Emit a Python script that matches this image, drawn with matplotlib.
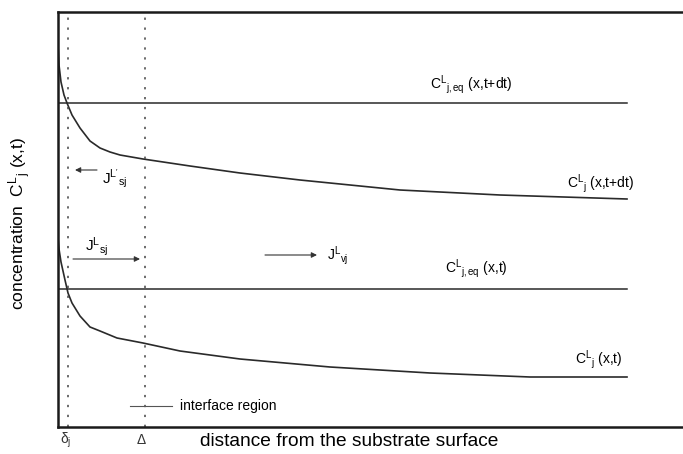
import matplotlib
matplotlib.use("Agg")
import matplotlib.pyplot as plt

plt.rcParams['font.family'] = ['Liberation Sans', 'DejaVu Sans']
plt.rcParams['mathtext.fontset'] = 'custom'
plt.rcParams['mathtext.rm'] = 'Liberation Sans'
plt.rcParams['mathtext.it'] = 'Liberation Sans'
plt.rcParams['mathtext.bf'] = 'Liberation Sans:bold'

# ---- data (schematic units: distance from substrate, concentration) ----
x_upper = [0, 1, 3, 6, 9, 14, 22, 32, 42, 52, 62, 85, 132, 182, 242, 342, 442, 569]
c_upper = [382, 362, 345, 332, 324, 312, 299, 286, 279, 275, 272, 268, 261, 254, 247, 237, 232, 228]

x_lower = [0, 1, 3, 7, 10, 14, 22, 32, 42, 59, 85, 122, 182, 272, 372, 472, 569]
c_lower = [189, 178, 165, 147, 134, 124, 111, 100, 96, 89, 84, 76, 68, 60, 54, 50, 50]

ceq_upper = 324
ceq_lower = 138
x_eq_end = 569

delta_j = 10
Delta = 87

W = 683
H = 454
fig = plt.figure(figsize=(W / 100, H / 100), dpi=100)
ax = fig.add_axes([58 / W, (H - 427) / H, (W - 58) / W, (427 - 12) / H])
ax.set_xlim(0, W - 58)
ax.set_ylim(0, 427 - 12)

for s in ['left', 'top', 'bottom']:
    ax.spines[s].set_linewidth(1.8)
    ax.spines[s].set_color('#1a1a1a')
ax.spines['right'].set_visible(False)
ax.set_xticks([])
ax.set_yticks([])

lc = '#2a2a2a'
ax.plot(x_upper, c_upper, color=lc, lw=1.2)
ax.plot(x_lower, c_lower, color=lc, lw=1.2)
ax.plot([0, x_eq_end], [ceq_upper, ceq_upper], color=lc, lw=1.1)
ax.plot([0, x_eq_end], [ceq_lower, ceq_lower], color=lc, lw=1.1)

for xv in (delta_j, Delta):
    ax.axvline(xv, color='#444444', lw=1.1, ls=(0, (1.5, 5)))

# arrows
def arrow(x0, y0, x1, y1):
    ax.annotate('', xy=(x1, y1), xytext=(x0, y0),
                arrowprops=dict(arrowstyle='-|>', color='#333333', lw=0.8,
                                mutation_scale=8, shrinkA=0, shrinkB=0))

arrow(39, 257, 17, 257)     # J^L'_sj (towards substrate)
arrow(15, 168, 82, 168)     # J^L_sj
arrow(207, 172, 259, 172)   # J^L_vj

fs = 10
ax.text(44, 248, r"$\mathregular{J^{L'}{}_{sj}}$", fontsize=11, ha='left', va='center')
ax.text(27, 180, r"$\mathregular{J^{L}{}_{sj}}$", fontsize=11, ha='left', va='center')
ax.text(269, 171, r"$\mathregular{J^{L}{}_{vj}}$", fontsize=fs, ha='left', va='center')

ax.text(372, 342, r"$\mathregular{C^{L}{}_{j,eq}}$ (x,t+dt)", fontsize=fs, ha='left', va='center')
ax.text(509, 243, r"$\mathregular{C^{L}{}_{j}}$ (x,t+dt)", fontsize=fs, ha='left', va='center')
ax.text(387, 158, r"$\mathregular{C^{L}{}_{j,eq}}$ (x,t)", fontsize=fs, ha='left', va='center')
ax.text(517, 67, r"$\mathregular{C^{L}{}_{j}}$ (x,t)", fontsize=fs, ha='left', va='center')

ax.plot([72, 114], [21, 21], color='#555555', lw=0.8)
ax.text(122, 21, 'interface region', fontsize=10, ha='left', va='center')

# axis labels
fig.text(200 / W, 1 - 442 / H, 'distance from the substrate surface',
         fontsize=13.8, ha='left', va='center')
fig.text(20 / W, 1 - 224 / H, r"concentration  $\mathregular{C^{L}{}_{j}}$ (x,t)",
         fontsize=12.5, rotation=90, ha='center', va='center')
fig.text(66 / W, 1 - 440 / H, r"$\mathregular{\delta_{j}}$", fontsize=10, ha='center', va='center', color='#333333')
fig.text(141 / W, 1 - 440 / H, r"$\mathregular{\Delta}$", fontsize=10, ha='center', va='center', color='#333333')

fig.savefig('out.png', dpi=100)
